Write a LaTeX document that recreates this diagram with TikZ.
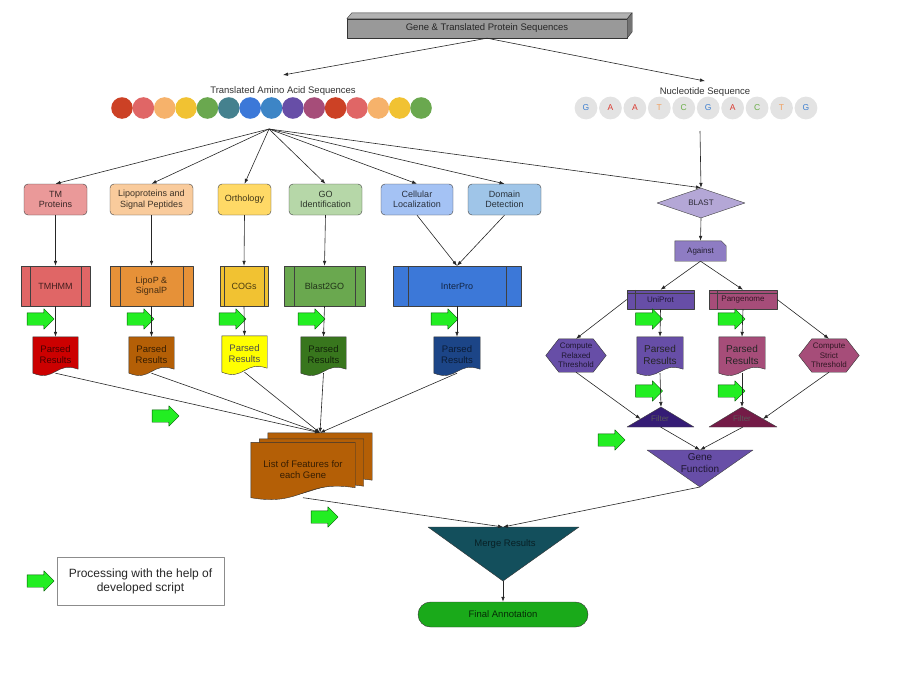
\documentclass[tikz,border=0pt]{standalone}
\usepackage{fontspec}
\setmainfont{Liberation Sans}
\usetikzlibrary{arrows.meta,shapes.geometric,shapes.arrows,calc,backgrounds}

\definecolor{aa1}{HTML}{CC4125}
\definecolor{aa2}{HTML}{E06666}
\definecolor{aa3}{HTML}{F6B26B}
\definecolor{aa4}{HTML}{F1C232}
\definecolor{aa5}{HTML}{6AA84F}
\definecolor{aa6}{HTML}{45818E}
\definecolor{aa7}{HTML}{3C78D8}
\definecolor{aa8}{HTML}{3D85C6}
\definecolor{aa9}{HTML}{674EA7}
\definecolor{aa10}{HTML}{A64D79}
\definecolor{aa11}{HTML}{CC4125}
\definecolor{aa12}{HTML}{E06666}
\definecolor{aa13}{HTML}{F6B26B}
\definecolor{aa14}{HTML}{F1C232}
\definecolor{aa15}{HTML}{6AA84F}
\definecolor{ntg}{HTML}{3F80D0}
\definecolor{nta}{HTML}{D9382E}
\definecolor{ntt}{HTML}{F0A060}
\definecolor{ntc}{HTML}{6AAE48}
\definecolor{tmfill}{HTML}{EA9999}
\definecolor{lipofill}{HTML}{F9CB9C}
\definecolor{orthofill}{HTML}{FFD966}
\definecolor{gofill}{HTML}{B6D7A8}
\definecolor{cellfill}{HTML}{A4C2F4}
\definecolor{domfill}{HTML}{9FC5E8}
\definecolor{tmhmmfill}{HTML}{E06666}
\definecolor{lipopfill}{HTML}{E69138}
\definecolor{cogfill}{HTML}{F1C232}
\definecolor{bgofill}{HTML}{6AA84F}
\definecolor{iprfill}{HTML}{3C78D8}
\definecolor{pred}{HTML}{CC0000}
\definecolor{pbrown}{HTML}{B45F06}
\definecolor{pyellow}{HTML}{FFFF00}
\definecolor{pgreen}{HTML}{38761D}
\definecolor{pblue}{HTML}{1C4587}
\definecolor{blastfill}{HTML}{B4A7D6}
\definecolor{againstfill}{HTML}{8E7CC3}
\definecolor{unifill}{HTML}{674EA7}
\definecolor{panfill}{HTML}{A64D79}
\definecolor{ufiltfill}{HTML}{351C75}
\definecolor{pfiltfill}{HTML}{741B47}
\definecolor{mergefill}{HTML}{134F5C}
\definecolor{finalfill}{HTML}{1AAA1A}
\definecolor{scriptgreen}{HTML}{22EE22}

\newcommand{\docshape}[3]{%
\begin{pgfonlayer}{background}
\draw[draw=black!80, fill=#2] (#1.north west) -- (#1.north east) -- ($(#1.south east)+(0,-#3)$)
  .. controls ($(#1.south west)!0.5!(#1.south east)+(0,-#3-8)$) and ($(#1.south west)!0.5!(#1.south east)+(0,9)$) .. (#1.south west) -- cycle;
\end{pgfonlayer}}

\newcommand{\hexshape}[2]{%
\begin{pgfonlayer}{background}
\draw[draw=black!80, fill=#2] (#1.west) -- ($(#1.north west)+(13,0)$) -- ($(#1.north east)+(-13,0)$) -- (#1.east)
  -- ($(#1.south east)+(-13,0)$) -- ($(#1.south west)+(13,0)$) -- cycle;
\end{pgfonlayer}}

\begin{document}
\begin{tikzpicture}[x=1pt, y=-1pt, line join=round,
  flow/.style={draw=black!85, line width=0.6pt, -{Latex[length=5pt,width=3.6pt]}},
  task/.style={draw=black!75, rounded corners=4pt, align=center, font=\fontsize{9}{10.5}\selectfont, minimum height=31pt, inner sep=1pt},
  tool/.style={draw=black!75, align=center, font=\fontsize{9}{10.5}\selectfont, minimum height=40pt, inner sep=1pt},
  smalltool/.style={draw=black!75, align=center, font=\fontsize{8}{9.5}\selectfont, minimum height=19pt, inner sep=1pt},
  parsed/.style={align=center, font=\fontsize{9.5}{11}\selectfont, minimum height=36pt, minimum width=45pt, inner sep=0pt},
  scriptarrow/.style={single arrow, draw=green!35!black, fill=scriptgreen, minimum height=27pt, single arrow head extend=4pt, inner sep=6pt},
  seqlabel/.style={font=\fontsize{9.5}{11}\selectfont, text=black!80},
  hexnode/.style={align=center, font=\fontsize{8}{9.5}\selectfont, minimum width=60pt, minimum height=33pt, inner sep=0pt},
]
\useasboundingbox (0,0) rectangle (900,680);

\node[draw=black!80, fill=black!40, minimum width=280pt, minimum height=19pt, inner sep=0pt, font=\fontsize{9.5}{11}\selectfont, text=black!85] (gene) at (487,28.5) {Gene \& Translated Protein Sequences};
\draw[draw=black!80, fill=black!30] (gene.north west) -- ++(5,-6) -- ($(gene.north east)+(5,-6)$) -- (gene.north east) -- cycle;
\draw[draw=black!80, fill=black!55] (gene.north east) -- ++(5,-6) -- ++(0,19) -- (gene.south east) -- cycle;

\node[seqlabel] (aalabel) at (283,91) {Translated Amino Acid Sequences};
\node[seqlabel] (ntlabel) at (705,92) {Nucleotide Sequence};

\foreach \i in {1,...,15}
    \node[circle, fill=aa\i, minimum size=21.6pt, inner sep=0pt] (aa\i) at ({122+(\i-1)*21.36},108) {};

\foreach \b/\c [count=\i] in {G/ntg, A/nta, A/nta, T/ntt, C/ntc, G/ntg, A/nta, C/ntc, T/ntt, G/ntg}
    \node[circle, fill=black!11, minimum size=22.8pt, inner sep=0pt, text=\c, font=\fontsize{8.5}{10}\selectfont] (nt\i) at ({586+(\i-1)*24.44},108) {\b};

\coordinate (aafan) at (269,129);
\coordinate (ntdown) at (700,131);

\node[task, fill=tmfill, text=tmfill!25!black, minimum width=63pt] (tm) at (55.5,199.5) {TM\\Proteins};
\node[task, fill=lipofill, text=lipofill!25!black, minimum width=83pt] (lipo) at (151.5,199.5) {Lipoproteins and\\Signal Peptides};
\node[task, fill=orthofill, text=orthofill!25!black, minimum width=53pt] (ortho) at (244.5,199.5) {Orthology};
\node[task, fill=gofill, text=gofill!25!black, minimum width=73pt] (goid) at (325.5,199.5) {GO\\Identification};
\node[task, fill=cellfill, text=cellfill!25!black, minimum width=72pt] (cell) at (417,199.5) {Cellular\\Localization};
\node[task, fill=domfill, text=domfill!25!black, minimum width=73pt] (dom) at (504.5,199.5) {Domain\\Detection};

\node[tool, fill=tmhmmfill, text=tmhmmfill!30!black, minimum width=69pt] (tmhmm) at (55.5,286) {TMHMM};
\node[tool, fill=lipopfill, text=lipopfill!30!black, minimum width=83pt] (lipop) at (151.5,286) {LipoP \&\\SignalP};
\node[tool, fill=cogfill, text=cogfill!30!black, minimum width=48pt] (cogs) at (244,286) {COGs};
\node[tool, fill=bgofill, text=bgofill!30!black, minimum width=81pt] (blastgo) at (324.5,286) {Blast2GO};
\node[tool, fill=iprfill, text=iprfill!30!black, minimum width=128pt] (interpro) at (457,286) {InterPro};
\foreach \n/\d in {tmhmm/9, lipop/10, cogs/4.5, blastgo/10, interpro/15}
{
    \draw[black!75] ($(\n.north west)+(\d,0)$) -- ($(\n.south west)+(\d,0)$);
    \draw[black!75] ($(\n.north east)+(-\d,0)$) -- ($(\n.south east)+(-\d,0)$);
}

\node[parsed, text=pred!35!black] (p1) at (55.5,355) {Parsed\\Results};
\node[parsed, text=pbrown!30!black] (p2) at (151.5,355) {Parsed\\Results};
\node[parsed, text=black!70] (p3) at (244.5,354) {Parsed\\Results};
\node[parsed, text=pgreen!30!black] (p4) at (323.5,355) {Parsed\\Results};
\node[parsed, text=pblue!40!black, minimum width=46pt] (p5) at (457,355) {Parsed\\Results};
\docshape{p1}{pred}{4}
\docshape{p2}{pbrown}{4}
\docshape{p3}{pyellow}{4}
\docshape{p4}{pgreen}{4}
\docshape{p5}{pblue}{4}

\node[minimum width=104pt, minimum height=55pt, inner sep=0pt] (featC) at (320,460.5) {};
\node[minimum width=104pt, minimum height=55pt, inner sep=0pt] (featB) at (311.5,466.5) {};
\node[minimum width=104pt, minimum height=55pt, inner sep=0pt, align=center, font=\fontsize{9.5}{11}\selectfont, text=pbrown!30!black] (feat) at (303,470) {List of Features for\\each Gene};
\docshape{featC}{pbrown}{8}
\docshape{featB}{pbrown}{8}
\docshape{feat}{pbrown}{10}

\node[diamond, draw=black!75, fill=blastfill, minimum width=88pt, minimum height=30pt, inner sep=0pt, aspect=2.9, font=\fontsize{8}{9}\selectfont, text=blastfill!25!black] (blast) at (701,203) {BLAST};

\node[minimum width=51pt, minimum height=20pt, inner sep=0pt, font=\fontsize{8}{9}\selectfont, text=againstfill!25!black] (against) at (700.5,251) {Against};
\begin{pgfonlayer}{background}
\draw[draw=black!75, fill=againstfill] (against.north west) -- ($(against.north east)+(-5,0)$) -- ($(against.north east)+(0,5)$) -- (against.south east) -- (against.south west) -- cycle;
\end{pgfonlayer}

\node[smalltool, fill=unifill, text=unifill!30!black, minimum width=67pt] (uniprot) at (660.5,299.5) {UniProt};
\node[smalltool, fill=panfill, text=panfill!30!black, minimum width=68pt] (pangenome) at (743,299.5) {Pangenome};
\foreach \n in {uniprot, pangenome}
{
    \draw[black!75] ($(\n.north west)+(8,0)$) -- ($(\n.south west)+(8,0)$);
    \draw[black!75] ($(\n.north west)+(0,3)$) -- ($(\n.north east)+(0,3)$);
}

\node[hexnode, text=unifill!30!black] (relaxed) at (576,355.5) {Compute\\Relaxed\\Threshold};
\node[hexnode, text=panfill!30!black] (strict) at (829,355.5) {Compute\\Strict\\Threshold};
\hexshape{relaxed}{unifill}
\hexshape{strict}{panfill}

\node[parsed, font=\fontsize{10}{11.5}\selectfont, text=black!85, minimum width=46pt] (p6) at (660,355) {Parsed\\Results};
\node[parsed, font=\fontsize{10}{11.5}\selectfont, text=black!85, minimum width=46pt] (p7) at (742,355) {Parsed\\Results};
\docshape{p6}{unifill}{4}
\docshape{p7}{panfill}{4}

\coordinate (ufilttop) at (661,407);
\coordinate (ufiltbl) at (627,427);
\coordinate (ufiltbr) at (694,427);
\coordinate (pfilttop) at (742,407);
\coordinate (pfiltbl) at (709,427);
\coordinate (pfiltbr) at (777,427);
\draw[draw=black!75, fill=ufiltfill] (ufilttop) -- (ufiltbr) -- (ufiltbl) -- cycle;
\draw[draw=black!75, fill=pfiltfill] (pfilttop) -- (pfiltbr) -- (pfiltbl) -- cycle;
\node[font=\fontsize{8}{9}\selectfont, text=black!65] (ufilt) at (660,418.5) {Filter};
\node[font=\fontsize{8}{9}\selectfont, text=black!65] (pfilt) at (742,418.5) {Filter};

\coordinate (gftl) at (647,450);
\coordinate (gftr) at (753,450);
\coordinate (gftop) at (700,450);
\coordinate (gfapex) at (700,487);
\draw[draw=black!75, fill=unifill] (gftl) -- (gftr) -- (gfapex) -- cycle;
\node[align=center, font=\fontsize{10}{11.5}\selectfont, text=unifill!30!black] (gf) at (700,463) {Gene\\Function};

\coordinate (mergetl) at (428,527);
\coordinate (mergetr) at (579,527);
\coordinate (mergetop) at (503,527);
\coordinate (mergeapex) at (503,581);
\draw[draw=black!80, fill=mergefill] (mergetl) -- (mergetr) -- (mergeapex) -- cycle;
\node[font=\fontsize{9.5}{11}\selectfont, text=mergefill!40!black] (merge) at (505,544) {Merge Results};

\node[draw=black!80, fill=finalfill, rounded corners=12.5pt, minimum width=170pt, minimum height=25pt, inner sep=0pt, font=\fontsize{9.5}{11}\selectfont, text=finalfill!25!black] (final) at (503,614.5) {Final Annotation};

\node[draw=black!45, minimum width=167pt, minimum height=48pt, align=center, font=\fontsize{12}{14}\selectfont, text=black!85] (legend) at (140.5,581) {Processing with the help of\\developed script};

\foreach \x/\y [count=\i] in {37.5/319, 137.5/319, 229.5/319, 308.5/319, 441.5/319, 162.5/416, 321.5/517, 646/319, 728.5/319, 646/391, 728.5/391, 608.5/440, 37.5/581}
    \node[scriptarrow] (sa\i) at (\x,\y) {};

\draw[flow] (gene.south) -- ([yshift=8pt]aalabel.north);
\draw[flow] (gene.south) -- ([yshift=3pt]ntlabel.north);
\foreach \n in {tm, lipo, ortho, goid, cell, dom, blast}
    \draw[flow] (aafan) -- (\n.north);
\foreach \a/\b in {tm/tmhmm, lipo/lipop, ortho/cogs, goid/blastgo, cell/interpro, dom/interpro}
    \draw[flow] (\a.south) -- (\b.north);
\foreach \a/\b in {tmhmm/p1, lipop/p2, cogs/p3, blastgo/p4, interpro/p5}
    \draw[flow] (\a.south) -- (\b.north);
\foreach \n in {p1, p2, p3, p4, p5}
    \draw[flow] (\n.south) -- (featC.north);
\draw[flow] (feat.south) -- (mergetop);

\draw[flow] (ntdown) -- (blast.north);
\draw[flow] (blast.south) -- (against.north);
\draw[flow] (against.south) -- (uniprot.north);
\draw[flow] (against.south) -- (pangenome.north);
\draw[flow] (uniprot.west) -- (relaxed.north);
\draw[flow] (pangenome.east) -- (strict.north);
\draw[flow] (uniprot.south) -- (p6.north);
\draw[flow] (pangenome.south) -- (p7.north);
\draw[flow] (p6.south) -- (ufilttop);
\draw[flow] (p7.south) -- (pfilttop);
\draw[flow] (relaxed.south) -- ($(ufilttop)!0.6!(ufiltbl)$);
\draw[flow] (strict.south) -- ($(pfilttop)!0.6!(pfiltbr)$);
\draw[flow] ($(ufiltbl)!0.5!(ufiltbr)$) -- (gftop);
\draw[flow] ($(pfiltbl)!0.5!(pfiltbr)$) -- (gftop);
\draw[flow] (gfapex) -- (mergetop);
\draw[flow] (mergeapex) -- (final.north);

\end{tikzpicture}
\end{document}
